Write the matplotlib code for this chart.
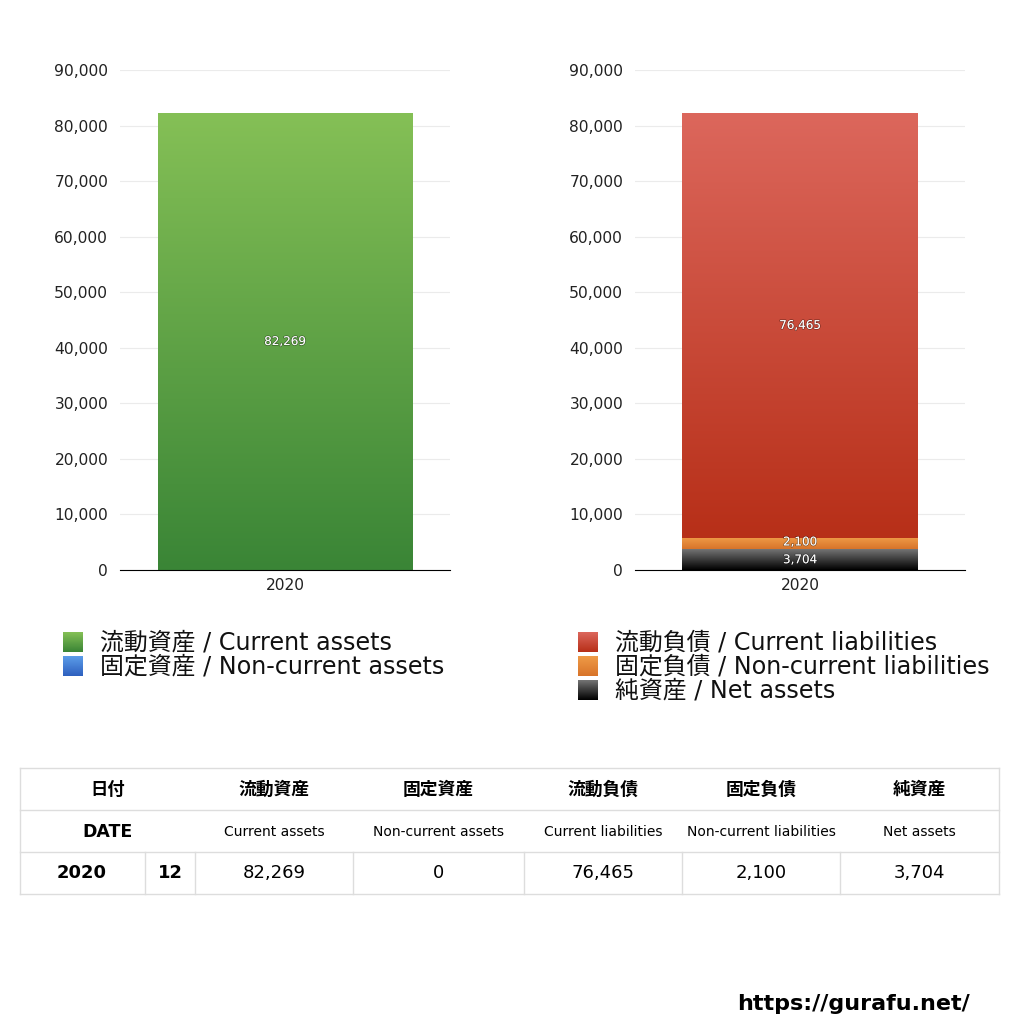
import matplotlib
matplotlib.use("Agg")
import matplotlib.pyplot as plt
import matplotlib.patheffects as pe
import numpy as np
from matplotlib.colors import LinearSegmentedColormap
from matplotlib.ticker import FuncFormatter

plt.rcParams["font.family"] = ["DejaVu Sans", "Noto Sans CJK JP"]

# --- data -------------------------------------------------------------
year = "2020"
month = "12"
assets_labels = ["流動資産 / Current assets", "固定資産 / Non-current assets"]
assets_values = [82269, 0]
liab_labels = ["流動負債 / Current liabilities", "固定負債 / Non-current liabilities",
               "純資産 / Net assets"]
liab_values = [76465, 2100, 3704]  # stacked order: net assets at the bottom
table_jp = ["流動資産", "固定資産", "流動負債", "固定負債", "純資産"]
table_en = ["Current assets", "Non-current assets", "Current liabilities",
            "Non-current liabilities", "Net assets"]
table_vals = [82269, 0, 76465, 2100, 3704]
yticks = [0, 10000, 20000, 30000, 40000, 50000, 60000, 70000, 80000, 90000]

GRAD = {
    "green": ("#85c056", "#3a8536"),
    "blue": ("#5c9de9", "#2e60bf"),
    "red": ("#dc675c", "#b72f18"),
    "orange": ("#ef9b47", "#d8742a"),
    "black": ("#747474", "#000000"),
}


def cmap_of(name):
    top, bottom = GRAD[name]
    return LinearSegmentedColormap.from_list(name, [bottom, top])


def gradient_bar(ax, x, bottom, height, width, name):
    bars = ax.bar(x, height, width, bottom=bottom, color="none", linewidth=0)
    patch = bars[0]
    grad = np.linspace(0, 1, 256).reshape(-1, 1)
    im = ax.imshow(grad, cmap=cmap_of(name), origin="lower", aspect="auto",
                   extent=(x - width / 2, x + width / 2, bottom, bottom + height),
                   zorder=2)
    im.set_clip_path(patch)
    return patch


def label(ax, x, y, value):
    ax.text(x, y, f"{value:,}", ha="center", va="center", color="white",
            fontsize=8.6, zorder=5,
            path_effects=[pe.withStroke(linewidth=1.0, foreground="#00000066")])


def style_axes(ax):
    ax.set_xlim(-0.5, 0.5)
    ax.set_ylim(0, 90000)
    ax.set_yticks(yticks)
    ax.yaxis.set_major_formatter(FuncFormatter(lambda v, p: f"{int(v):,}"))
    ax.set_xticks([0])
    ax.set_xticklabels([year])
    ax.tick_params(length=0, labelsize=11.2, colors="#222222", pad=8.5)
    ax.tick_params(axis="x", pad=6)
    for s in ("top", "right", "left"):
        ax.spines[s].set_visible(False)
    ax.spines["bottom"].set_color("black")
    ax.spines["bottom"].set_zorder(6)
    ax.grid(axis="y", color="#ebebeb", linewidth=0.8)
    ax.set_axisbelow(True)


fig = plt.figure(figsize=(10.24, 10.24), dpi=100)
W = H = 1024.0

# --- left chart: assets ----------------------------------------------
axL = fig.add_axes([120 / W, (H - 570) / H, 330 / W, 500 / H])
style_axes(axL)
gradient_bar(axL, 0, 0, assets_values[0], 0.77, "green")
label(axL, 0, assets_values[0] / 2, assets_values[0])

# --- right chart: liabilities + net assets ---------------------------
axR = fig.add_axes([635 / W, (H - 570) / H, 330 / W, 500 / H])
style_axes(axR)
w = 0.715
base = 0
for val, name in [(liab_values[2], "black"), (liab_values[1], "orange"),
                  (liab_values[0], "red")]:
    gradient_bar(axR, 0, base, val, w, name)
    base += val
label(axR, 0, liab_values[2] / 2, liab_values[2])
label(axR, 0, liab_values[2] + liab_values[1] / 2 + 300, liab_values[1])
label(axR, 0, liab_values[2] + liab_values[1] + liab_values[0] / 2, liab_values[0])

# --- overlay in pixel coordinates: legends, table, footer -------------
ov = fig.add_axes([0, 0, 1, 1])
grad = np.linspace(0, 1, 64).reshape(-1, 1)


def legend_entry(x, y, text, name):
    ov.imshow(grad, cmap=cmap_of(name), origin="lower", aspect="auto",
              extent=(x, x + 20, y + 10, y - 10), zorder=3)
    ov.text(x + 37, y, text, ha="left", va="center", fontsize=17.2, color="#111111")


legend_entry(63, 642, assets_labels[0], "green")
legend_entry(63, 666, assets_labels[1], "blue")
legend_entry(578, 642, liab_labels[0], "red")
legend_entry(578, 666, liab_labels[1], "orange")
legend_entry(578, 690, liab_labels[2], "black")

# table
lc = "#dddddd"
rows_y = [768, 810, 852, 894]
col_x = [195, 353, 524, 682, 840, 999]
for y in rows_y:
    ov.plot([20, 999], [y, y], color=lc, lw=1)
ov.plot([20, 20], [768, 894], color=lc, lw=1)
ov.plot([999, 999], [768, 894], color=lc, lw=1)
for x in [145] + col_x[:-1]:
    ov.plot([x, x], [852, 894], color=lc, lw=1)

ov.text(108, 790, "日付", ha="center", va="center", fontsize=12.5, fontweight="bold")
ov.text(108, 832, "DATE", ha="center", va="center", fontsize=12.5, fontweight="bold")
ov.text(82, 873, year, ha="center", va="center", fontsize=13, fontweight="bold")
ov.text(170, 873, month, ha="center", va="center", fontsize=13, fontweight="bold")
for i in range(5):
    cx = (col_x[i] + col_x[i + 1]) / 2
    ov.text(cx, 790, table_jp[i], ha="center", va="center", fontsize=12.8,
            fontweight="bold")
    ov.text(cx, 832, table_en[i], ha="center", va="center", fontsize=10)
    ov.text(cx, 873, f"{table_vals[i]:,}", ha="center", va="center", fontsize=13)

ov.text(970, 1004, "https://gurafu.net/", ha="right", va="center", fontsize=16,
        fontweight="bold", color="black")

ov.set_xlim(0, W)
ov.set_ylim(H, 0)
ov.axis("off")

fig.savefig("out.png", dpi=100)
